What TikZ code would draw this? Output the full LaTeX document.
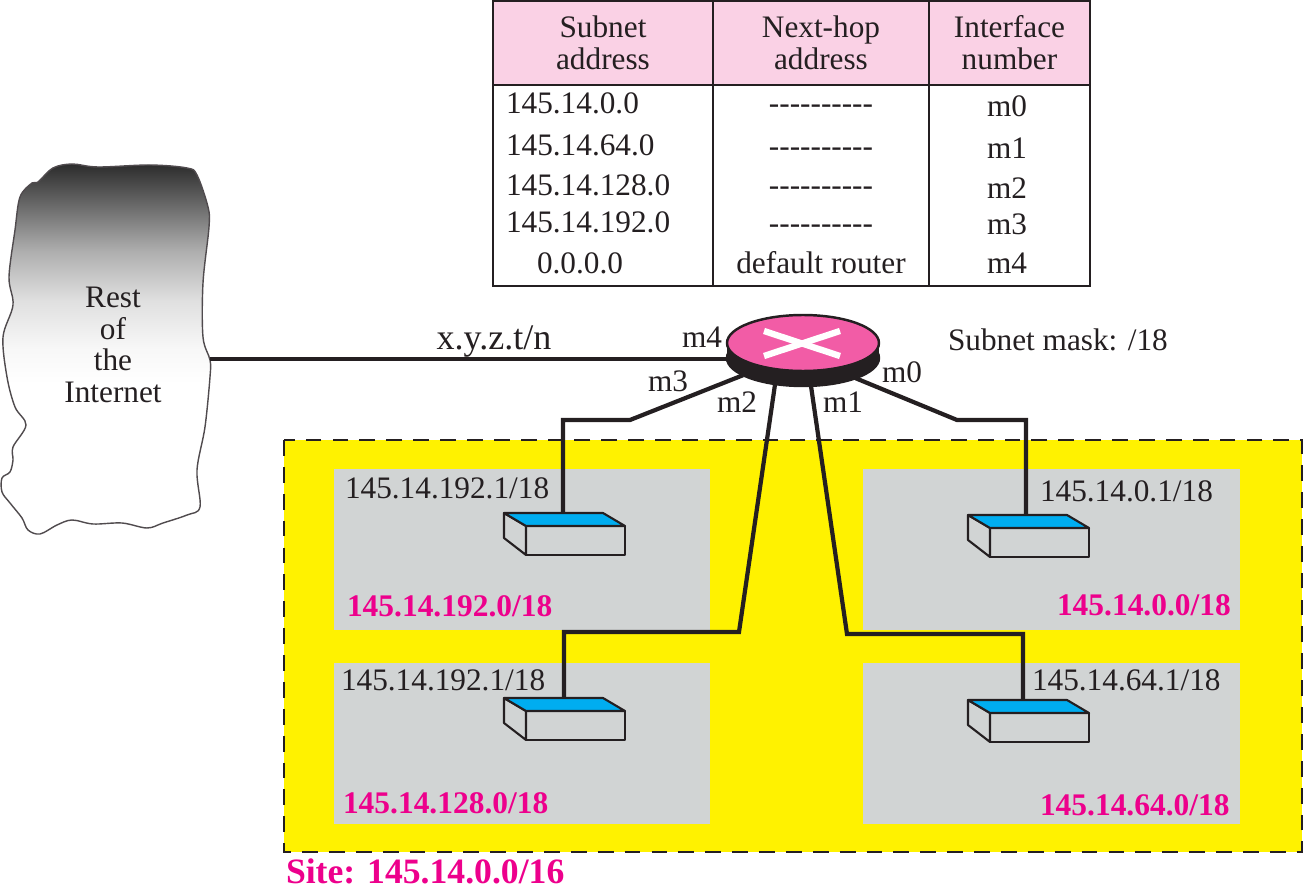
\documentclass[tikz,border=0pt]{standalone}
\usepackage{fontspec}
\setmainfont{Liberation Serif}
\usetikzlibrary{shapes.geometric}
\definecolor{siteyellow}{rgb}{1.00,0.95,0.00}
\definecolor{subnetgray}{rgb}{0.82,0.83,0.83}
\definecolor{sitepink}{rgb}{0.93,0.00,0.55}
\definecolor{routerpink}{rgb}{0.95,0.36,0.65}
\definecolor{headpink}{rgb}{0.98,0.82,0.90}
\definecolor{hubblue}{rgb}{0.00,0.68,0.94}
\definecolor{inkblack}{rgb}{0.14,0.12,0.13}
\pgfdeclareverticalshading{cloudfade}{100bp}{
  color(0bp)=(white); color(45.4bp)=(white);
  color(50.2bp)=(black!3); color(56.4bp)=(black!12);
  color(63.3bp)=(black!32); color(70.2bp)=(black!62);
  color(75bp)=(black!83); color(100bp)=(black!83)
}
\newcommand{\nohop}{-{}-{}-{}-{}-{}-{}-{}-{}-{}-}
\tikzset{
  txt/.style={text=inkblack, inner sep=0pt, outer sep=0pt,
    font=\fontsize{17.8}{18.1}\selectfont},
  bigtxt/.style={txt, font=\fontsize{20.5}{24}\selectfont},
  subnetlbl/.style={txt, anchor=base west, text=sitepink,
    font=\fontsize{17.9}{18.1}\selectfont\bfseries},
  addrlbl/.style={txt, anchor=base west},
  headcell/.style={txt, draw=inkblack, line width=1.1pt, fill=headpink,
    align=center, minimum height=1.68cm},
  bodycell/.style={draw=inkblack, line width=1.1pt},
  subnetbox/.style={fill=subnetgray},
  wire/.style={draw=inkblack, line width=2.4pt},
  hubline/.style={draw=inkblack, line width=1.2pt, line join=round},
  hubfront/.style={hubline, fill=subnetgray, minimum width=1.98cm,
    minimum height=0.58cm, inner sep=0pt, outer sep=0pt},
  routerdisc/.style={ellipse, draw=inkblack, line width=1.4pt, inner sep=0pt,
    outer sep=0pt, minimum width=3.04cm, minimum height=1.12cm}
}
\begin{document}
\begin{tikzpicture}[x=0.02cm,y=-0.02cm]
  \useasboundingbox (0,0) rectangle (1303,895);

  % Routing table, header row then the three body columns.
  \node[headcell, minimum width=4.4cm] (subnethead) at (603,43) {Subnet\\address};
  \node[headcell, minimum width=4.32cm] (hophead) at (821,43) {Next-hop\\address};
  \node[headcell, minimum width=3.22cm] (ifacehead) at (1009.5,43) {Interface\\number};
  \draw[bodycell] (493,85) rectangle (713,286);
  \draw[bodycell] (713,85) rectangle (929,286);
  \draw[bodycell] (929,85) rectangle (1090,286);
  \foreach \addr/\ya/\yb/\yc/\ifname in {145.14.0.0/114/114/117/m0,145.14.64.0/156/157/159/m1,
      145.14.128.0/196/196/199/m2,145.14.192.0/233/234/235/m3}{
    \node[txt, anchor=base west] at (506,\ya) {\addr};
    \node[txt, anchor=base] at (821,\yb) {\nohop};
    \node[txt, anchor=base] at (1007,\yc) {\ifname};
  }
  \node[txt, anchor=base west] (defaultaddr) at (537,274) {0.0.0.0};
  \node[txt, anchor=base] (defaulthop) at (821,274) {default router};
  \node[txt, anchor=base] (defaultif) at (1007,274) {m4};

  % Rest of the Internet.
  \shade[shading=cloudfade, draw=inkblack!80, line width=0.8pt] plot[smooth cycle, tension=0.55] coordinates {
    (72,164) (98,167) (150,165) (187,168) (197,175) (208,207) (209,227) (203,283)
    (203,337) (210,360) (210,377) (205,427) (197,470) (200,507) (187,515) (163,523)
    (147,528) (122,523) (93,524) (72,520) (57,525) (40,534) (28,530) (22,518)
    (10,503) (2,492) (2,478) (10,472) (13,460) (13,447) (26,425) (15,407) (7,377)
    (3,337) (13,305) (9,277) (15,230) (20,197) (32,183) (38,182) (53,168)};
  \node[txt, align=center] (rest) at (113,345) {Rest\\of\\the\\Internet};
  \coordinate (cloudedge) at (210,359);

  % Site and its four subnets.
  \fill[siteyellow] (284,440) rectangle (1302,852);
  \draw[draw=inkblack, line width=1.1pt, dash pattern=on 9pt off 6.3pt] (284,440) rectangle (1302,852);
  \fill[subnetbox] (334,469) rectangle (710,630);
  \fill[subnetbox] (863,469) rectangle (1240,630);
  \fill[subnetbox] (334,663) rectangle (710,824);
  \fill[subnetbox] (863,663) rectangle (1240,824);

  % Router.
  \node[routerdisc, fill=inkblack] (routerside) at (803,358) {};
  \fill[inkblack] (routerside.west) rectangle (803,343) (803,343) rectangle (routerside.east);
  \node[routerdisc, fill=routerpink] (router) at (803,343) {};
  \draw[white, line width=3.6pt] (router.center) +(-39,-12) -- +(37,13);
  \draw[white, line width=3.6pt] (router.center) +(-39,13) -- +(37,-12);

  % Hubs, one per subnet.
  \foreach \name/\x/\y/\p in {hubtl/504/513/59,hubtr/968/515/58,hubbl/504/698/60,hubbr/968/700/55}{
    \node[hubfront] (\name) at (\x+71.5,\y+27.5) {};
    \draw[hubline, fill=subnetgray] (\name.north west) -- ++(-22,-13) -- ++(0,25) -- (\name.south west) -- cycle;
    \draw[hubline, fill=hubblue] (\name.north west) -- ++(-22,-13) -- ++(99,0) -- (\name.north east) -- cycle;
    \coordinate (\name-port) at (\x+\p,\y);
  }

  % Links out of the router.
  \draw[wire] (cloudedge) -- (cloudedge -| routerside.west);
  \draw[wire] (routerside.196) -- (630,420) -| (hubtl-port);
  \draw[wire] (routerside.339) -- (957,420) -| (hubtr-port);
  \draw[wire] (routerside.223) -- (739,632) -| (hubbl-port);
  \draw[wire] (routerside.286) -- (847,634) -| (hubbr-port);

  % Interface and network labels.
  \node[bigtxt, anchor=base] (extaddr) at (494,350) {x.y.z.t/n};
  \node[txt, anchor=base east] (mfour) at (722,348) {m4};
  \node[txt, anchor=base west] (mthree) at (648,392) {m3};
  \node[txt, anchor=base west] (mtwo) at (717,413) {m2};
  \node[txt, anchor=base west] (mone) at (823,413) {m1};
  \node[txt, anchor=base west] (mzero) at (882,383) {m0};
  \node[txt, anchor=base west] (masklbl) at (948,351) {Subnet mask: /18};

  \node[addrlbl] (addrtl) at (345,499) {145.14.192.1/18};
  \node[addrlbl] (addrtr) at (1040,501) {145.14.0.1/18};
  \node[addrlbl] (addrbl) at (341,690) {145.14.192.1/18};
  \node[addrlbl] (addrbr) at (1032,690) {145.14.64.1/18};
  \node[subnetlbl] (nettl) at (347,616) {145.14.192.0/18};
  \node[subnetlbl] (nettr) at (1057,615) {145.14.0.0/18};
  \node[subnetlbl] (netbl) at (343,813) {145.14.128.0/18};
  \node[subnetlbl] (netbr) at (1040,815) {145.14.64.0/18};
  \node[subnetlbl, font=\fontsize{20.3}{24}\selectfont\bfseries] (sitelbl) at (286,883) {Site: 145.14.0.0/16};
\end{tikzpicture}
\end{document}
